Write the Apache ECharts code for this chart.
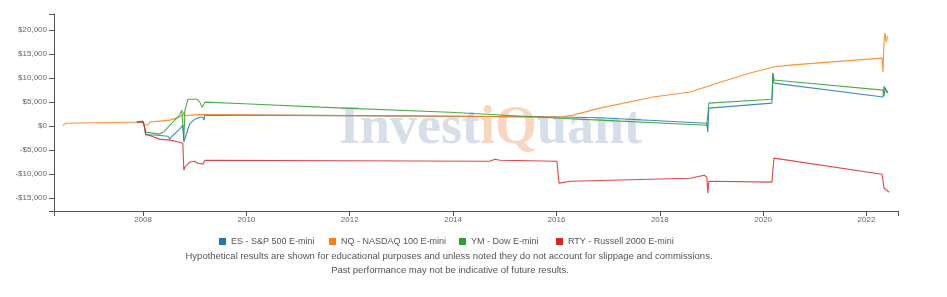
<!DOCTYPE html>
<html>
<head>
<meta charset="utf-8">
<script src="https://cdn.jsdelivr.net/npm/echarts@6/dist/echarts.min.js"></script>
<style>
html,body{margin:0;padding:0;background:#fff;}
#chart{width:947px;height:297px;}
</style>
</head>
<body>
<div id="chart"></div>
<script>
// ---- data (decimal years, USD) ----
const seriesNames = ['ES - S&P 500 E-mini', 'NQ - NASDAQ 100 E-mini', 'YM - Dow E-mini', 'RTY - Russell 2000 E-mini'];

const esX = [2007.88, 2008.00, 2008.03, 2008.05, 2008.23, 2008.48, 2008.52, 2008.56, 2008.71, 2008.77, 2008.79, 2008.81, 2008.90, 2009.00, 2009.10, 2009.16, 2009.18, 2009.20, 2012.00, 2016.07, 2016.84, 2018.91, 2018.93, 2018.95, 2020.17, 2020.19, 2020.21, 2022.32, 2022.34, 2022.38, 2022.41];
const esY = [850, 1050, -200, -1850, -1850, -2100, -2700, -2100, -600, 200, -3300, -3550, 400, 1450, 1850, 1850, 1250, 2300, 2200, 1900, 1750, 600, -1250, 3750, 4800, 11050, 8950, 6050, 8300, 7500, 7100];

const nqX = [2006.45, 2006.50, 2007.94, 2008.00, 2008.03, 2008.09, 2008.13, 2008.32, 2008.52, 2008.71, 2008.77, 2008.79, 2008.81, 2008.90, 2009.10, 2012.00, 2016.07, 2016.32, 2016.84, 2017.87, 2018.59, 2019.17, 2019.75, 2020.19, 2020.52, 2022.30, 2022.32, 2022.34, 2022.36, 2022.38, 2022.40, 2022.41];
const nqY = [100, 600, 850, 850, 400, 200, 850, 1050, 1250, 1900, 2300, 2900, 2100, 2300, 2400, 2200, 1900, 2300, 3750, 6050, 7100, 9150, 11050, 12300, 12700, 14150, 11250, 17900, 19400, 17500, 18300, 18750];

const ymX = [2007.88, 2008.00, 2008.03, 2008.05, 2008.32, 2008.42, 2008.52, 2008.71, 2008.75, 2008.77, 2008.79, 2008.81, 2008.87, 2009.04, 2009.10, 2009.14, 2009.20, 2010.07, 2011.42, 2013.94, 2016.07, 2016.84, 2018.91, 2018.93, 2018.95, 2020.17, 2020.19, 2020.21, 2022.32, 2022.34, 2022.36, 2022.40, 2022.41];
const ymY = [850, 850, -200, -1250, -1650, -1050, 200, 2300, 3350, 3550, -2900, 3350, 5600, 5600, 5000, 3950, 5000, 4600, 3950, 2900, 1650, 1250, 200, 0, 4800, 5600, 11050, 9600, 7500, 6250, 7900, 6900, 7300];

const rtyX = [2007.88, 2008.00, 2008.03, 2008.05, 2008.32, 2008.52, 2008.71, 2008.77, 2008.79, 2008.81, 2008.90, 2009.00, 2009.06, 2009.16, 2009.20, 2014.71, 2014.81, 2014.91, 2016.01, 2016.05, 2016.27, 2018.59, 2018.86, 2018.91, 2018.93, 2018.95, 2020.17, 2020.21, 2022.30, 2022.34, 2022.44];
const rtyY = [850, 850, -200, -1650, -2700, -2900, -3350, -3550, -9150, -8550, -7500, -7300, -7700, -7900, -7100, -7300, -6900, -7100, -7300, -11850, -11450, -10850, -10200, -10600, -13950, -11450, -11650, -6650, -10000, -12900, -13750];

const xTicks = [2008, 2010, 2012, 2014, 2016, 2018, 2020, 2022];
const yTicks = [-15000, -10000, -5000, 0, 5000, 10000, 15000, 20000];
const xMin = 2006.277, xMax = 2022.61;
const yMin = -17650, yMax = 23330;

const footer1 = 'Hypothetical results are shown for educational purposes and unless noted they do not account for slippage and commissions.';
const footer2 = 'Past performance may not be indicative of future results.';

// ---- build ----
const colors = ['#1f77b4', '#ff7f0e', '#2ca02c', '#d62728'];
function pairs(xs, ys) { return xs.map((x, i) => [x, ys[i]]); }
const allData = [pairs(esX, esY), pairs(nqX, nqY), pairs(ymX, ymY), pairs(rtyX, rtyY)];

function money(v) {
  const s = Math.abs(v).toLocaleString('en-US');
  return (v < 0 ? '-$' : '$') + s;
}

const FONT = '"Liberation Sans", Arial, sans-serif';
const legendLefts = [214, 324, 454, 551];
const WM = 'bold 54px "Liberation Serif", serif';

const chart = echarts.init(document.getElementById('chart'), null, {renderer: 'canvas'});
chart.setOption({
  animation: false,
  color: colors,
  grid: {left: 54, right: 49, top: 14, bottom: 86, containLabel: false},
  xAxis: {
    type: 'value', min: xMin, max: xMax,
    splitLine: {show: false},
    axisLine: {onZero: false, lineStyle: {color: '#555', width: 1}},
    axisTick: {show: true, length: 5, customValues: [xMin].concat(xTicks, [xMax]), lineStyle: {color: '#555'}},
    axisLabel: {customValues: xTicks, color: '#666', fontSize: 8, fontFamily: FONT, margin: 5,
      formatter: v => String(Math.round(v))}
  },
  yAxis: {
    type: 'value', min: yMin, max: yMax,
    splitLine: {show: false},
    axisLine: {show: true, onZero: false, lineStyle: {color: '#555', width: 1}},
    axisTick: {show: true, length: 5, customValues: [yMin].concat(yTicks, [yMax]), lineStyle: {color: '#555'}},
    axisLabel: {customValues: yTicks, color: '#666', fontSize: 8, fontFamily: FONT, margin: 7,
      formatter: v => money(Math.round(v))}
  },
  legend: seriesNames.map((n, i) => ({
    data: [n], left: legendLefts[i], top: 232, itemWidth: 7, itemHeight: 7, itemGap: 0,
    icon: 'rect', textStyle: {fontSize: 9, color: '#555', fontFamily: FONT}
  })),
  graphic: [
    {type: 'text', left: 339, top: 102, z: 0, silent: true,
      style: {text: '{a|Invest}{b|iQ}{a|uant}', font: WM,
        rich: {a: {fill: '#d6dee8', font: WM}, b: {fill: '#f8d6bf', font: WM}}}},
    {type: 'text', x: 449, y: 256, style: {text: footer1, fill: '#555', font: '9.5px ' + FONT, textAlign: 'center', textVerticalAlign: 'middle'}},
    {type: 'text', x: 450, y: 270, style: {text: footer2, fill: '#555', font: '9.5px ' + FONT, textAlign: 'center', textVerticalAlign: 'middle'}}
  ],
  series: allData.map((d, i) => ({
    name: seriesNames[i], type: 'line', data: d, showSymbol: false, symbol: 'none',
    lineStyle: {width: 1.1, opacity: 0.85}, z: 3
  }))
});
</script>
</body>
</html>
